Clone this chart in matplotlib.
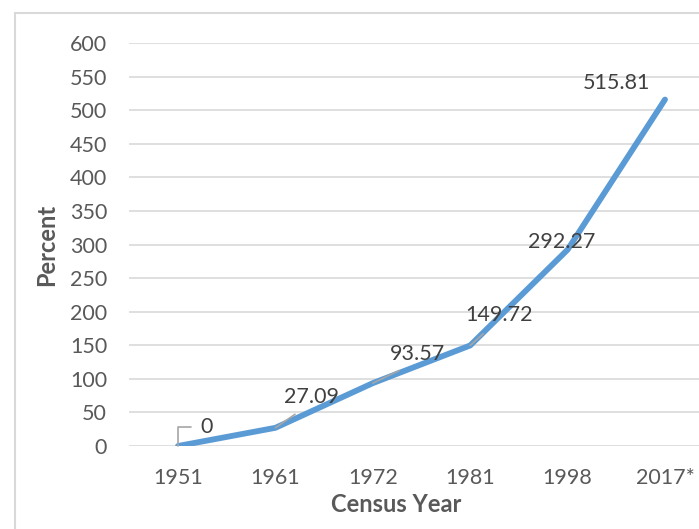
import matplotlib
matplotlib.use('Agg')
import matplotlib.pyplot as plt
from matplotlib.lines import Line2D

years = ['1951', '1961', '1972', '1981', '1998', '2017*']
percent = [0, 27.09, 93.57, 149.72, 292.27, 515.81]
labels = ['0', '27.09', '93.57', '149.72', '292.27', '515.81']

# where each data label sits, in pixels from its point (dx, dy)
label_offsets = [(29, 19), (36, 31), (45, 29), (29, 30), (-6, 8), (-49, 17)]
leader = [True, True, True, True, False, False]

plt.rcParams['font.family'] = ['Lato', 'DejaVu Sans']

fig = plt.figure(figsize=(6.99, 5.29), dpi=100)
ax = fig.add_axes([0.185, 0.1569, 0.836, 0.7618])

x = list(range(len(years)))
ax.plot(x, percent, color='#5B9BD5', linewidth=4.2, solid_capstyle='round', zorder=3)

for i, (val, lab) in enumerate(zip(percent, labels)):
    dx, dy = label_offsets[i]
    props = None
    if leader[i]:
        if i == 0:
            props = dict(arrowstyle='-', color='#A6A6A6', lw=1.2, relpos=(0, 0.5),
                         shrinkA=5, shrinkB=0,
                         connectionstyle='angle,angleA=0,angleB=90,rad=0')
        else:
            props = dict(arrowstyle='-', color='#A6A6A6', lw=1.2, relpos=(0.4, 0),
                         shrinkA=6, shrinkB=0)
    ax.annotate(lab, xy=(i, val), xytext=(dx, dy), textcoords='offset pixels',
                ha='center', va='center', fontsize=15.5, color='#404040',
                arrowprops=props, zorder=4)

ax.set_xlim(-0.5, 5.5)
ax.set_ylim(0, 600)
ax.set_yticks(range(0, 601, 50))
ax.set_xticks(x)
ax.set_xticklabels(years)
ax.grid(True, axis='y', color='#D9D9D9', linewidth=1.2, zorder=0)
ax.set_axisbelow(True)
for s in ax.spines.values():
    s.set_visible(False)
ax.tick_params(axis='both', length=0, labelsize=15.5, labelcolor='#595959')
ax.tick_params(axis='y', pad=16)
ax.tick_params(axis='x', pad=16)
ax.set_xlabel('Census Year', fontsize=17, fontweight='bold', color='#595959')
ax.set_ylabel('Percent', fontsize=17, fontweight='bold', color='#595959')
ax.xaxis.label.set_va('center')
ax.yaxis.label.set_va('center')
ax.xaxis.set_label_coords(0.456, -0.146)
ax.yaxis.set_label_coords(-0.141, 0.5)

# chart border (left and top edges visible in the crop)
fig.add_artist(Line2D([14.5 / 699, 14.5 / 699], [0, 1 - 13 / 529], color='#D9D9D9', lw=1.5))
fig.add_artist(Line2D([14.5 / 699, 1], [1 - 13 / 529, 1 - 13 / 529], color='#D9D9D9', lw=1.5))

fig.savefig('out.png', dpi=100)
